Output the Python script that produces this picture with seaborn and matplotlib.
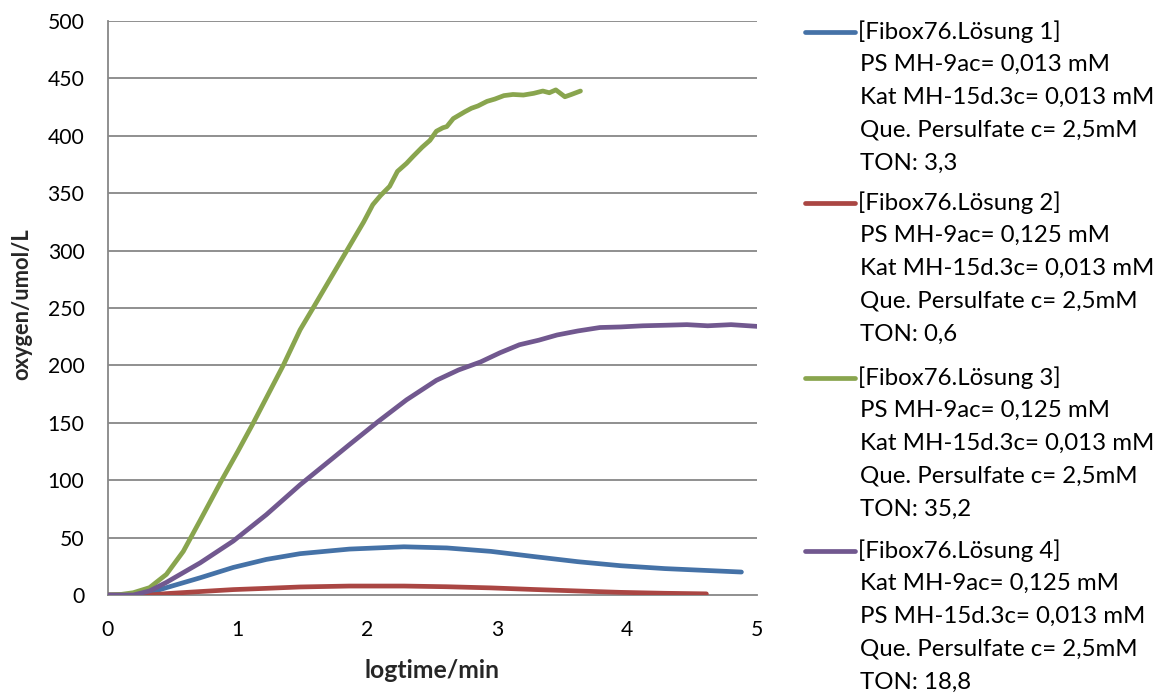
import numpy as np
import pandas as pd
import matplotlib
matplotlib.use("Agg")
import matplotlib.pyplot as plt
from matplotlib.lines import Line2D
import seaborn as sns

# ---------------- data ----------------
blue_x = [0.00, 0.195, 0.32, 0.45, 0.71, 0.965, 1.22, 1.48, 1.86, 2.28, 2.61, 2.95, 3.28, 3.62, 3.95, 4.29, 4.88]
blue_y = [0.0, 0.0, 2.0, 6.4, 15.0, 24.0, 31.0, 36.0, 40.0, 42.0, 41.0, 38.0, 33.5, 29.0, 25.5, 23.0, 20.0]

red_x = [0.00, 0.32, 0.45, 0.71, 0.965, 1.22, 1.48, 1.86, 2.28, 2.61, 2.95, 3.28, 3.62, 3.95, 4.29, 4.61]
red_y = [0.0, 0.0, 1.2, 3.0, 4.7, 5.8, 7.0, 7.8, 7.8, 7.2, 6.2, 4.8, 3.5, 2.3, 1.5, 1.0]

green_x = [0.00, 0.10, 0.195, 0.32, 0.45, 0.58, 0.71, 0.876, 1.00, 1.12, 1.235, 1.35, 1.48, 1.58,
           1.71, 1.84, 1.97, 2.04, 2.10, 2.17, 2.23, 2.30, 2.35, 2.42, 2.48, 2.53, 2.58, 2.61,
           2.66, 2.72, 2.75, 2.80, 2.85, 2.92, 2.98, 3.05, 3.12, 3.20, 3.28, 3.35, 3.40, 3.45,
           3.52, 3.57, 3.64]
green_y = [0.0, 0.5, 2.0, 6.4, 18.0, 38.0, 65.0, 100.0, 125.0, 150.0, 175.0, 200.0, 231.0, 250.0,
           275.0, 300.0, 325.0, 340.0, 348.0, 356.0, 369.0, 376.0, 382.0, 390.0, 396.0, 404.0, 407.0, 408.0,
           415.0, 419.0, 421.0, 424.0, 426.0, 430.0, 432.0, 435.0, 436.0, 435.5, 437.0, 439.0, 437.5, 440.0,
           434.0, 436.0, 439.0]

purple_x = [0.00, 0.195, 0.32, 0.45, 0.58, 0.71, 0.965, 1.22, 1.48, 1.73, 1.86, 2.08, 2.30, 2.53,
            2.70, 2.87, 3.02, 3.17, 3.32, 3.46, 3.62, 3.79, 3.95, 4.12, 4.30, 4.46, 4.62, 4.80, 5.00]
purple_y = [0.0, 0.0, 3.5, 11.0, 19.5, 28.0, 47.0, 70.0, 96.0, 119.0, 131.0, 151.0, 170.0, 187.0,
            196.0, 203.0, 211.0, 218.0, 222.0, 226.5, 230.0, 233.0, 233.5, 234.5, 235.0, 235.5, 234.5, 235.5, 234.0]

series_names = ["Lösung 1", "Lösung 2", "Lösung 3", "Lösung 4"]
legend_labels = [
    ["[Fibox76.Lösung 1]", "PS MH-9ac= 0,013 mM", "Kat MH-15d.3c= 0,013 mM",
     "Que. Persulfate c= 2,5mM", "TON: 3,3"],
    ["[Fibox76.Lösung 2]", "PS MH-9ac= 0,125 mM", "Kat MH-15d.3c= 0,013 mM",
     "Que. Persulfate c= 2,5mM", "TON: 0,6"],
    ["[Fibox76.Lösung 3]", "PS MH-9ac= 0,125 mM", "Kat MH-15d.3c= 0,013 mM",
     "Que. Persulfate c= 2,5mM", "TON: 35,2"],
    ["[Fibox76.Lösung 4]", "Kat MH-9ac= 0,125 mM", "PS MH-15d.3c= 0,013 mM",
     "Que. Persulfate c= 2,5mM", "TON: 18,8"],
]
x_ticks = [0, 1, 2, 3, 4, 5]
y_ticks = [0, 50, 100, 150, 200, 250, 300, 350, 400, 450, 500]
x_label = "logtime/min"
y_label = "oxygen/umol/L"

colors = ["#4572A7", "#AA4643", "#89A54E", "#71588F"]

# ---------------- build long table ----------------
frames = []
for name, xs, ys in zip(series_names,
                        [blue_x, red_x, green_x, purple_x],
                        [blue_y, red_y, green_y, purple_y]):
    frames.append(pd.DataFrame({"x": xs, "y": ys, "series": name}))
df = pd.concat(frames, ignore_index=True)

# ---------------- plotting ----------------
sns.set_style("white")
plt.rcParams["font.family"] = ["Lato", "DejaVu Sans"]

W, H = 1160, 693
fig = plt.figure(figsize=(W / 100, H / 100), dpi=100)
renderer = fig.canvas.get_renderer()


def fit_size(text, target_px, weight="normal", base=14.0):
    t = fig.text(0, 0, text, fontsize=base, fontweight=weight)
    w = t.get_window_extent(renderer).width
    t.remove()
    return base * target_px / w


tick_fs = fit_size("500", 37)
xlab_fs = fit_size(x_label, 136, "bold")
ylab_fs = fit_size(y_label, 152, "bold")
leg_fs = fit_size("Kat MH-15d.3c= 0,013 mM", 294)

ax = fig.add_axes([108 / W, 1 - 595 / H, (757 - 108) / W, (595 - 21) / H])

grid_color = "#878787"
for yv in y_ticks[1:]:
    ax.axhline(yv, color=grid_color, lw=1.3, zorder=0)

sns.lineplot(data=df, x="x", y="y", hue="series", palette=colors, sort=False,
             estimator=None, lw=3.4, legend=False, ax=ax, zorder=3,
             solid_capstyle="round", solid_joinstyle="round")

ax.set_xlim(0, 5)
ax.set_ylim(0, 500)
ax.set_xticks(x_ticks)
ax.set_yticks(y_ticks)
ax.set_xticklabels([str(t) for t in x_ticks])
ax.set_yticklabels([str(t) for t in y_ticks])
ax.tick_params(axis="both", length=0, labelsize=tick_fs, colors="black")
ax.tick_params(axis="y", pad=17)
ax.tick_params(axis="x", pad=18)

for s in ["top", "right"]:
    ax.spines[s].set_visible(False)
for s in ["left", "bottom"]:
    ax.spines[s].set_color(grid_color)
    ax.spines[s].set_linewidth(1.3)

ax.set_xlabel(x_label, fontsize=xlab_fs, fontweight="bold")
ax.set_ylabel(y_label, fontsize=ylab_fs, fontweight="bold")
ax.xaxis.label.set_va("center")
ax.yaxis.label.set_va("center")
ax.yaxis.label.set_ha("center")
ax.xaxis.set_label_coords((432 - 108) / 649, (595 - 670) / 574)
ax.yaxis.set_label_coords((22 - 108) / 649, (595 - 304) / 574)

# ---------------- legend (manual, handle aligned with first line) ----------------
entry_top = [32, 203, 378, 551]
line_step = 32.8
for i, (lab, col) in enumerate(zip(legend_labels, colors)):
    y0 = entry_top[i]
    fig.add_artist(Line2D([805 / W, 855 / W], [1 - y0 / H, 1 - y0 / H],
                          transform=fig.transFigure, color=col, lw=3.4,
                          solid_capstyle="round"))
    for j, txt in enumerate(lab):
        yy = y0 + j * line_step
        xx = 858 if j == 0 else 860
        fig.text(xx / W, 1 - yy / H, txt, fontsize=leg_fs, va="center", ha="left",
                 color="black")

fig.savefig("out.png", dpi=100)
